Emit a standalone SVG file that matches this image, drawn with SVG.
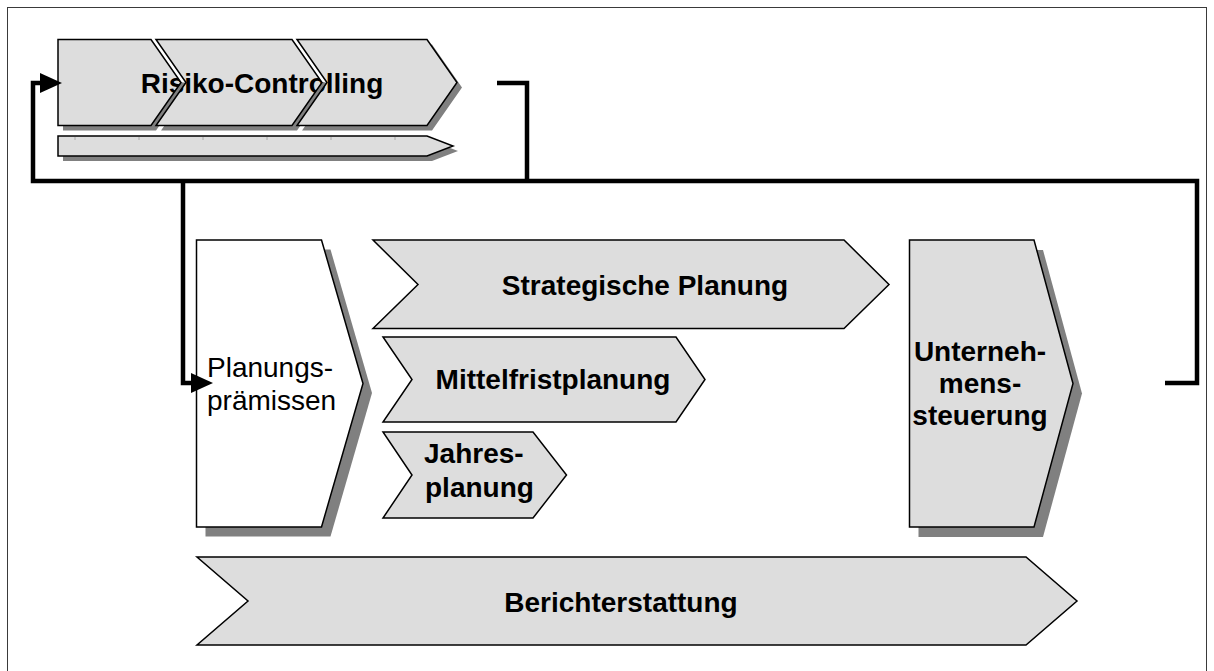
<svg xmlns="http://www.w3.org/2000/svg" width="1214" height="671" viewBox="0 0 1214 671">
  <style>
    .frame { fill: none; stroke: #3a3a3a; stroke-width: 1; }
    .shape { fill: #dddddd; stroke: #000; stroke-width: 1.5; stroke-linejoin: miter; }
    .white { fill: #ffffff; stroke: #000; stroke-width: 1.5; }
    .fillonly { fill: #dddddd; stroke: none; }
    .outline { fill: none; stroke: #000; stroke-width: 1.5; }
    .shadow { fill: #808080; stroke: none; }
    .tick { stroke: #a8a8a8; stroke-width: 1; }
    .lbl { font-family: "Liberation Sans", Arial, sans-serif; font-size: 28px; fill: #000; }
    .b { font-weight: bold; }
    .c { text-anchor: middle; }
    .conn { fill: none; stroke: #000; stroke-width: 4.5; stroke-linejoin: miter; stroke-linecap: butt; }
  </style>
  <defs>
    <marker id="arrow" viewBox="0 0 22 20" refX="0" refY="10" markerWidth="22" markerHeight="20" markerUnits="userSpaceOnUse" orient="auto">
      <path d="M0,0 L22,10 L0,20 Z" fill="#000"/>
    </marker>
  </defs>

  <rect class="frame" x="7.5" y="7.5" width="1199" height="700"/>

  <!-- Risiko-Controlling: three chained segments plus a timeline bar -->
  <g id="risiko-controlling">
    <g transform="translate(5,5)">
      <path class="shadow" d="M58,39.5 L151,39.5 L181,82.5 L151,125.5 L58,125.5 Z"/>
      <path class="shadow" d="M156,39.5 L292,39.5 L322,82.5 L292,125.5 L156,125.5 L186,82.5 Z"/>
      <path class="shadow" d="M297,39.5 L427,39.5 L457,82.5 L427,125.5 L297,125.5 L327,82.5 Z"/>
      <path class="shadow" d="M58,136 L427,136 L453,146 L427,156 L58,156 Z"/>
    </g>
    <path class="fillonly" d="M58,39.5 L151,39.5 L181,82.5 L151,125.5 L58,125.5 Z"/>
    <path class="fillonly" d="M156,39.5 L292,39.5 L322,82.5 L292,125.5 L156,125.5 L186,82.5 Z"/>
    <path class="fillonly" d="M297,39.5 L427,39.5 L457,82.5 L427,125.5 L297,125.5 L327,82.5 Z"/>
    <text class="lbl b c" x="262" y="93">Risiko-Controlling</text>
    <!-- seams between the segments, drawn over the label -->
    <path fill="#fff" d="M151,39.5 L156,39.5 L186,82.5 L181,82.5 Z"/>
    <path fill="#808080" d="M181,82.5 L186,82.5 L156,125.5 L151,125.5 Z"/>
    <path fill="#fff" d="M292,39.5 L297,39.5 L327,82.5 L322,82.5 Z"/>
    <path fill="#808080" d="M322,82.5 L327,82.5 L297,125.5 L292,125.5 Z"/>
    <path class="outline" d="M58,39.5 L151,39.5 L181,82.5 L151,125.5 L58,125.5 Z"/>
    <path class="outline" d="M156,39.5 L292,39.5 L322,82.5 L292,125.5 L156,125.5 L186,82.5 Z"/>
    <path class="outline" d="M297,39.5 L427,39.5 L457,82.5 L427,125.5 L297,125.5 L327,82.5 Z"/>
    <path class="shape" d="M58,136 L427,136 L453,146 L427,156 L58,156 Z"/>
    <line class="tick" x1="75" y1="137" x2="75" y2="140"/>
    <line class="tick" x1="139" y1="137" x2="139" y2="140"/>
    <line class="tick" x1="203" y1="137" x2="203" y2="140"/>
    <line class="tick" x1="267" y1="137" x2="267" y2="140"/>
    <line class="tick" x1="331" y1="137" x2="331" y2="140"/>
    <line class="tick" x1="395" y1="137" x2="395" y2="140"/>
  </g>

  <g id="planungspraemissen">
    <path class="shadow" transform="translate(9,9.5)" d="M196.5,240 L321.5,240 L363,383.5 L321.5,527 L196.5,527 Z"/>
    <path class="white" d="M196.5,240 L321.5,240 L363,383.5 L321.5,527 L196.5,527 Z"/>
    <text class="lbl" x="207" y="377">Planungs-</text>
    <text class="lbl" x="207" y="410">prämissen</text>
  </g>

  <g id="strategische-planung">
    <path class="shape" d="M373,240 L844,240 L889,284.5 L844,328.5 L373,328.5 L418,284.5 Z"/>
    <text class="lbl b c" x="645" y="295">Strategische Planung</text>
  </g>

  <g id="mittelfristplanung">
    <path class="shape" d="M383,337 L676,337 L705,379.5 L676,422 L383,422 L412,379.5 Z"/>
    <text class="lbl b c" x="553" y="389">Mittelfristplanung</text>
  </g>

  <g id="jahresplanung">
    <path class="shape" d="M383,432 L533,432 L566.5,475 L533,518 L383,518 L412,475 Z"/>
    <text class="lbl b" x="424" y="463">Jahres-</text>
    <text class="lbl b" x="425" y="497">planung</text>
  </g>

  <g id="unternehmenssteuerung">
    <path class="shadow" transform="translate(9,10)" d="M909.5,240 L1034,240 L1073,383.5 L1034,527 L909.5,527 Z"/>
    <path class="shape" d="M909.5,240 L1034,240 L1073,383.5 L1034,527 L909.5,527 Z"/>
    <text class="lbl b c" x="980" y="361">Unterneh-</text>
    <text class="lbl b c" x="980" y="393">mens-</text>
    <text class="lbl b c" x="980" y="425">steuerung</text>
  </g>

  <g id="berichterstattung">
    <path class="shape" d="M197,557 L1026,557 L1077,601 L1026,645 L197,645 L248,601 Z"/>
    <text class="lbl b c" x="621" y="612">Berichterstattung</text>
  </g>

  <!-- feedback connectors -->
  <g id="connectors">
    <path class="conn" d="M497,83 H527 V181"/>
    <path class="conn" d="M1165,383 H1197 V181 H33 V83 H40" marker-end="url(#arrow)"/>
    <path class="conn" d="M183,181 V383 H191" marker-end="url(#arrow)"/>
  </g>
</svg>
